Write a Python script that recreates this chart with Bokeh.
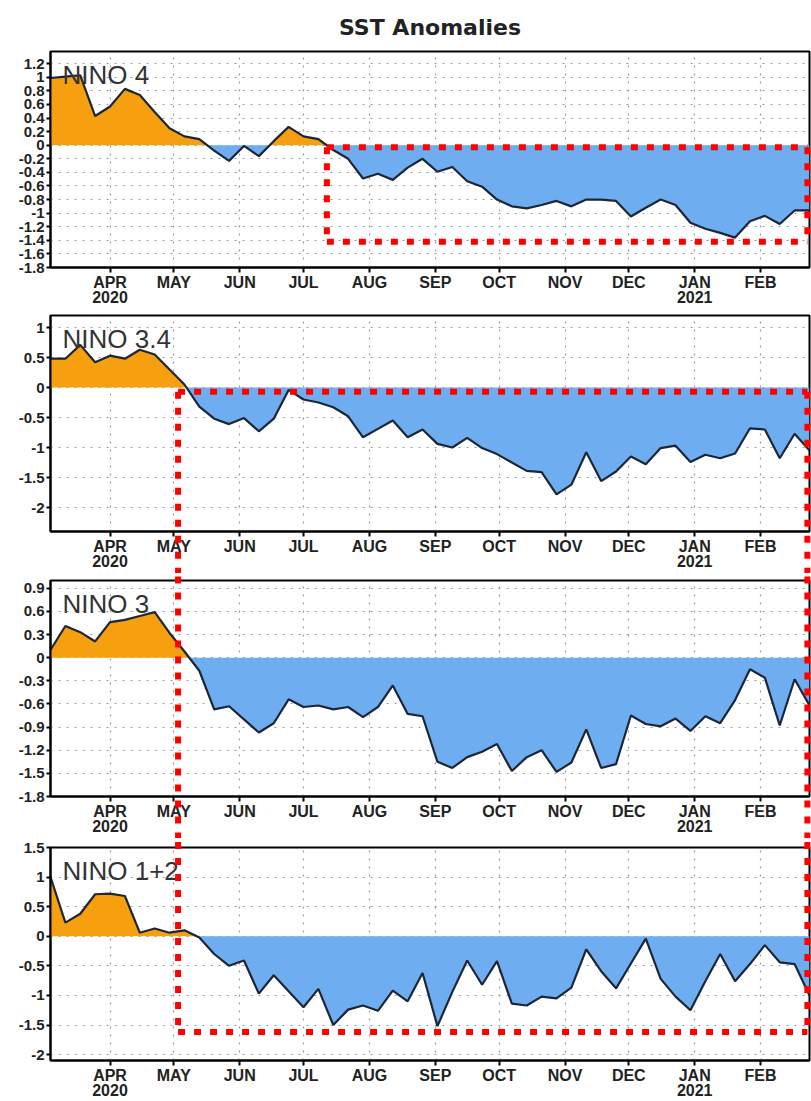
import numpy as np
import pandas as pd
from bokeh.plotting import figure
from bokeh.layouts import column
from bokeh.models import Range1d, FixedTicker, Label, DatetimeAxis
from bokeh.embed import file_html
from bokeh.resources import INLINE

# ---------------- data ----------------
# weekly values (Wednesdays) from 2020-03-04 to 2021-02-24
DATES = pd.date_range("2020-03-04", periods=52, freq="7D")

NINO4 = [0.99, 1.01, 1.03, 0.43, 0.57, 0.83, 0.74, 0.49, 0.25, 0.13,
         0.09, -0.08, -0.23, -0.01, -0.16, 0.06, 0.27, 0.13, 0.09, -0.07,
         -0.20, -0.49, -0.42, -0.51, -0.33, -0.20, -0.39, -0.32, -0.53, -0.61,
         -0.80, -0.90, -0.93, -0.88, -0.82, -0.90, -0.80, -0.80, -0.82, -1.05,
         -0.92, -0.80, -0.88, -1.14, -1.23, -1.29, -1.36, -1.12, -1.04, -1.16,
         -0.96, -0.96]

NINO34 = [0.48, 0.48, 0.71, 0.42, 0.53, 0.48, 0.63, 0.55, 0.30, 0.05,
          -0.32, -0.52, -0.61, -0.51, -0.73, -0.52, -0.04, -0.20, -0.25, -0.33,
          -0.48, -0.83, -0.69, -0.55, -0.83, -0.70, -0.94, -1.00, -0.84, -1.01,
          -1.11, -1.25, -1.39, -1.41, -1.78, -1.62, -1.08, -1.56, -1.40, -1.15,
          -1.28, -1.01, -0.97, -1.24, -1.12, -1.18, -1.10, -0.68, -0.70, -1.18,
          -0.77, -1.05]

NINO3 = [0.10, 0.41, 0.33, 0.21, 0.46, 0.49, 0.54, 0.59, 0.32, 0.08,
         -0.17, -0.67, -0.63, -0.80, -0.97, -0.85, -0.54, -0.64, -0.62, -0.67,
         -0.64, -0.77, -0.64, -0.36, -0.73, -0.76, -1.35, -1.43, -1.29, -1.22,
         -1.12, -1.47, -1.29, -1.20, -1.48, -1.36, -0.93, -1.43, -1.38, -0.75,
         -0.86, -0.89, -0.79, -0.95, -0.76, -0.85, -0.55, -0.15, -0.26, -0.88,
         -0.28, -0.62]

NINO12 = [1.00, 0.23, 0.38, 0.71, 0.72, 0.68, 0.06, 0.13, 0.06, 0.10,
          -0.02, -0.30, -0.50, -0.41, -0.97, -0.66, -0.93, -1.20, -0.89, -1.50,
          -1.24, -1.17, -1.26, -0.92, -1.10, -0.62, -1.52, -0.94, -0.41, -0.82,
          -0.42, -1.14, -1.17, -1.02, -1.05, -0.87, -0.22, -0.59, -0.88, -0.46,
          -0.04, -0.72, -1.02, -1.25, -0.76, -0.30, -0.76, -0.47, -0.15, -0.44,
          -0.47, -1.00]

MONTH_TICKS = ["2020-04-01", "2020-05-01", "2020-06-01", "2020-07-01", "2020-08-01",
               "2020-09-01", "2020-10-01", "2020-11-01", "2020-12-01", "2021-01-01",
               "2021-02-01"]
MONTH_LABELS = ["APR", "MAY", "JUN", "JUL", "AUG", "SEP", "OCT", "NOV", "DEC",
                "JAN", "FEB"]
YEAR_TICKS = ["2020-04-01", "2021-01-01"]
YEAR_LABELS = ["2020", "2021"]

NINO4_TICKS = [-1.8, -1.6, -1.4, -1.2, -1.0, -0.8, -0.6, -0.4, -0.2, 0.0,
               0.2, 0.4, 0.6, 0.8, 1.0, 1.2]
NINO34_TICKS = [-2.0, -1.5, -1.0, -0.5, 0.0, 0.5, 1.0]
NINO3_TICKS = [-1.8, -1.5, -1.2, -0.9, -0.6, -0.3, 0.0, 0.3, 0.6, 0.9]
NINO12_TICKS = [-2.0, -1.5, -1.0, -0.5, 0.0, 0.5, 1.0, 1.5]

TITLE = "SST Anomalies"
PANEL_NAMES = ["NINO  4", "NINO  3.4", "NINO  3", "NINO  1+2"]

# red dotted highlight boxes (dates / anomaly levels)
BOX1_X = ["2020-07-12", "2021-02-23"]
BOX1_Y = [-0.03, -1.42]
BOX2_X = ["2020-05-03", "2021-02-23"]
BOX2_Y = [-0.07, -1.62]   # top in NINO 3.4, bottom in NINO 1+2

# ---------------- style ----------------
ORANGE = "#F7A00F"
BLUE = "#6EAEF0"
LINE = "#1B2636"
RED = "#FF0000"
FONT = "Liberation Sans"


def ms(dates):
    return (pd.to_datetime(dates).astype("int64") // 10**6).astype(float).to_numpy()


X = ms(DATES)
MONTH_MS = ms(MONTH_TICKS)
YEAR_MS = ms(YEAR_TICKS)
B1X = ms(BOX1_X)
B2X = ms(BOX2_X)


def with_crossings(xs, ys):
    ox, oy = [xs[0]], [ys[0]]
    for i in range(1, len(xs)):
        y0, y1 = ys[i - 1], ys[i]
        if y0 * y1 < 0:
            t = y0 / (y0 - y1)
            ox.append(xs[i - 1] + t * (xs[i] - xs[i - 1]))
            oy.append(0.0)
        ox.append(xs[i])
        oy.append(ys[i])
    return np.array(ox), np.array(oy)


def tick_label(v):
    s = f"{v:g}"
    return "0" if s in ("-0", "0") else s


def style_x(ax, size):
    ax.major_label_text_font = FONT
    ax.major_label_text_font_style = "bold"
    ax.major_label_text_font_size = size
    ax.major_label_text_color = "#222222"
    ax.minor_tick_line_color = None


def make_panel(name, values, yticks, yrange, height, top, bottom, title=None):
    p = figure(width=811, height=height, x_axis_type="datetime",
               output_backend="svg", toolbar_location=None, title=title,
               x_range=Range1d(X[0], X[-1]), y_range=Range1d(*yrange),
               min_border_left=50, min_border_right=2,
               min_border_top=top, min_border_bottom=bottom,
               background_fill_color="white", border_fill_color="white")
    if title is not None:
        p.title.align = "center"
        p.title.text_font = "DejaVu Sans"
        p.title.text_font_size = "22px"
        p.title.text_font_style = "bold"
        p.title.text_color = "#222222"
        p.title.standoff = 24

    p.outline_line_color = "black"
    p.outline_line_width = 2

    # month axis
    xa = p.xaxis[0]
    xa.ticker = FixedTicker(ticks=list(MONTH_MS))
    xa.major_label_overrides = {float(t): lab for t, lab in zip(MONTH_MS, MONTH_LABELS)}
    style_x(xa, "16px")
    xa.major_label_standoff = 1
    xa.major_tick_out = 5
    xa.major_tick_in = 0
    xa.major_tick_line_width = 2
    xa.axis_line_width = 2

    # year axis
    ya2 = DatetimeAxis(ticker=FixedTicker(ticks=list(YEAR_MS)),
                       major_label_overrides={float(t): lab for t, lab in zip(YEAR_MS, YEAR_LABELS)})
    style_x(ya2, "16px")
    ya2.axis_line_color = None
    ya2.major_tick_line_color = None
    ya2.major_tick_out = 0
    ya2.major_tick_in = 0
    ya2.major_label_standoff = -3
    p.add_layout(ya2, "below")

    # y axis
    ya = p.yaxis[0]
    ya.ticker = FixedTicker(ticks=yticks)
    ya.major_label_overrides = {float(v): tick_label(v) for v in yticks}
    ya.major_label_text_font = FONT
    ya.major_label_text_font_style = "bold"
    ya.major_label_text_font_size = "15px"
    ya.major_label_text_color = "#222222"
    ya.major_label_standoff = 2
    ya.major_tick_out = 4
    ya.major_tick_in = 0
    ya.major_tick_line_width = 2
    ya.minor_tick_line_color = None
    ya.axis_line_width = 2

    for g in (p.xgrid[0], p.ygrid[0]):
        g.grid_line_color = "#9a9a9a"
        g.grid_line_dash = "2 6"
        g.grid_line_width = 1.2

    xs, ys = with_crossings(X, np.array(values, dtype=float))
    p.varea(x=xs, y1=0, y2=np.maximum(ys, 0), fill_color=ORANGE)
    p.varea(x=xs, y1=0, y2=np.minimum(ys, 0), fill_color=BLUE)
    p.line(X, values, line_color=LINE, line_width=2.2)

    p.add_layout(Label(x=X[0], y=yrange[1], x_offset=12, y_offset=-8,
                       text=name, text_font=FONT, text_font_size="26px",
                       text_color="#333333", text_baseline="top"))
    return p


def red(p, x0, y0, x1, y1):
    p.segment(x0=x0, y0=y0, x1=x1, y1=y1, line_color=RED, line_width=6,
              line_dash="7 9", line_cap="butt", level="overlay")


p1 = make_panel(PANEL_NAMES[0], NINO4, NINO4_TICKS, (-1.8, 1.38), 308, 50, 41,
                title=TITLE)
p2 = make_panel(PANEL_NAMES[1], NINO34, NINO34_TICKS, (-2.4, 1.2), 265, 7, 42)
p3 = make_panel(PANEL_NAMES[2], NINO3, NINO3_TICKS, (-1.8, 1.0), 265, 7, 42)
p4 = make_panel(PANEL_NAMES[3], NINO12, NINO12_TICKS, (-2.1, 1.5), 263, 9, 41)

# box in NINO 4
red(p1, [B1X[0], B1X[0], B1X[0], B1X[1]], [BOX1_Y[0], BOX1_Y[1], BOX1_Y[0], BOX1_Y[0]],
    [B1X[1], B1X[1], B1X[0], B1X[1]], [BOX1_Y[0], BOX1_Y[1], BOX1_Y[1], BOX1_Y[1]])
# big box spanning NINO 3.4 .. NINO 1+2
FAR = 50.0
red(p2, [B2X[0], B2X[0], B2X[1]], [BOX2_Y[0], BOX2_Y[0], BOX2_Y[0]],
    [B2X[1], B2X[0], B2X[1]], [BOX2_Y[0], -FAR, -FAR])
red(p3, [B2X[0], B2X[1]], [FAR, FAR], [B2X[0], B2X[1]], [-FAR, -FAR])
red(p4, [B2X[0], B2X[1], B2X[0]], [FAR, FAR, BOX2_Y[1]],
    [B2X[0], B2X[1], B2X[1]], [BOX2_Y[1], BOX2_Y[1], BOX2_Y[1]])

layout = column(p1, p2, p3, p4)
open("out.html", "w").write(file_html(layout, INLINE))
